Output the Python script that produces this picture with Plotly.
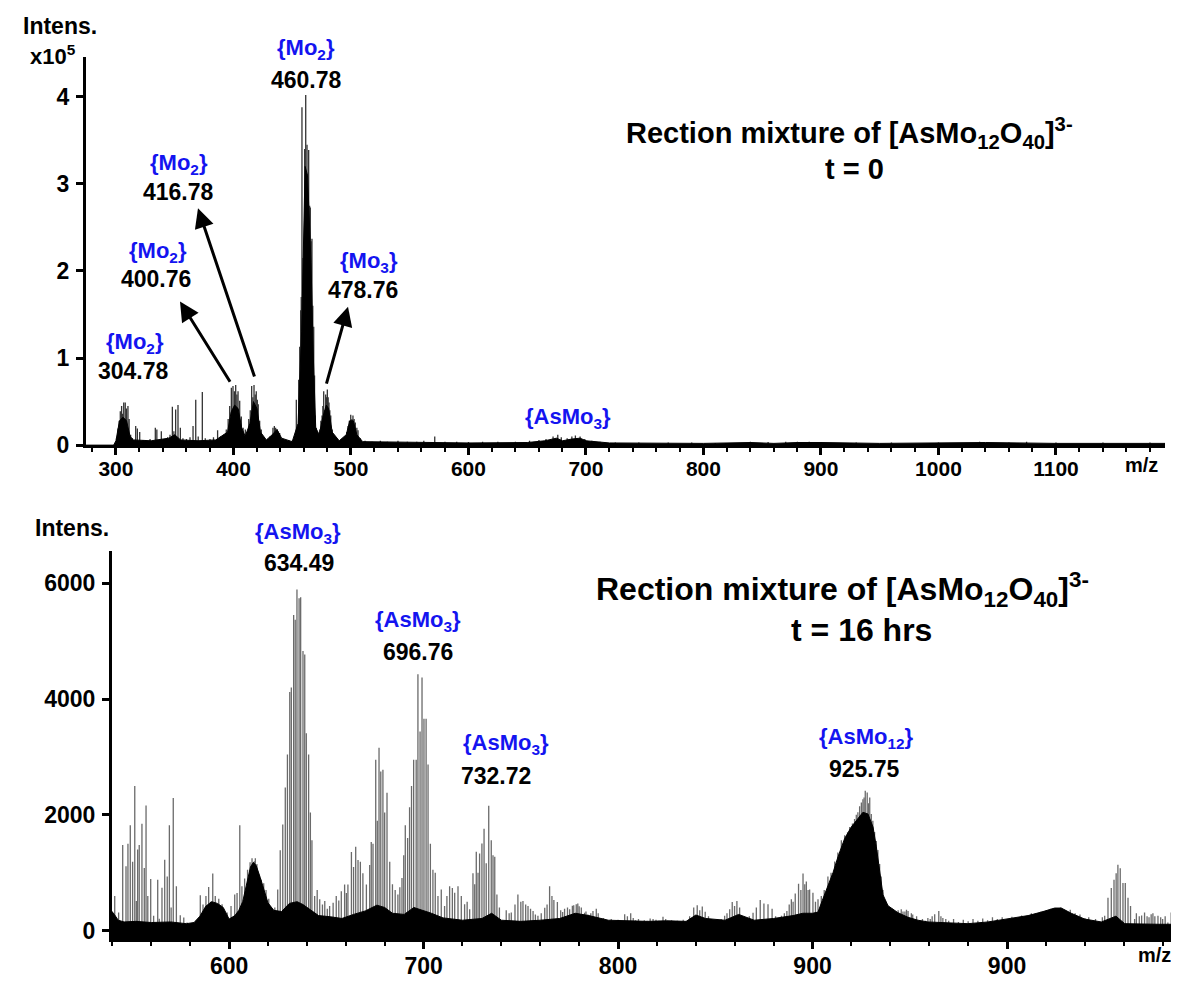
import plotly.graph_objects as go

# ---------------- data: top spectrum (t = 0), intensity in units of 1e5 ----------------
top_stick_mz = [300.5, 301.7, 302.8, 303.7, 304.8, 305.6, 306.6, 307.9, 308.9, 310.2, 311.2, 312.5, 314, 316.8,
                318.2, 320.2, 323, 326, 329, 333.5, 334.8, 338.6, 341, 344, 346, 348.0, 349.3, 350.8, 352.8, 354.8,
                357, 360, 363, 365.6, 367.9, 370, 373.5, 376, 380, 383, 386.5, 389, 392, 393.9, 395.5, 396.8,
                398.2, 399.6, 400.8, 401.9, 402.9, 403.9, 405.3, 406.7, 408.2, 410.1, 411.5, 413.0, 414.3, 415.5,
                416.5, 417.5, 418.5, 419.4, 420.3, 421.1, 422.3, 423.7, 426, 429, 431, 433.6, 434.8, 435.9, 437.2,
                437.9, 439.3, 441, 444, 447, 450, 452, 453.5, 455.5, 456.4, 457.2, 457.7, 458.3, 459.1, 460.0,
                460.6, 461.5, 462.1, 462.6, 463.3, 464.0, 464.8, 465.4, 466.2, 466.8, 467.5, 468.3, 469.0, 469.6,
                470.5, 472, 473.4, 474.4, 475.4, 476.1, 476.8, 477.6, 478.5, 479.2, 479.9, 480.6, 481.3, 482.0,
                482.8, 484.1, 486, 489, 492, 495, 496.5, 497.5, 498.6, 499.8, 500.8, 501.7, 502.7, 503.7, 505, 506,
                508, 512, 518, 525, 531, 540, 548, 556, 562, 571.3, 580, 590, 600, 612, 625, 640, 652, 660, 666,
                672, 676, 679, 684, 688, 691, 695, 699, 705, 712, 725, 745, 770, 790, 810, 840, 855, 870, 880, 890,
                900, 930, 960, 1000, 1035, 1060, 1075, 1100, 1140, 1180]
top_stick_int = [0.08, 0.19, 0.28, 0.39, 0.45, 0.36, 0.49, 0.49, 0.42, 0.45, 0.30, 0.12, 0.08, 0.22,
                 0.19, 0.15, 0.06, 0.05, 0.07, 0.20, 0.18, 0.16, 0.07, 0.09, 0.12, 0.44, 0.16, 0.41, 0.46, 0.20,
                 0.08, 0.07, 0.09, 0.22, 0.52, 0.10, 0.61, 0.08, 0.07, 0.09, 0.17, 0.10, 0.12, 0.18, 0.30, 0.45,
                 0.66, 0.68, 0.62, 0.69, 0.58, 0.62, 0.51, 0.33, 0.20, 0.18, 0.15, 0.30, 0.40, 0.68,
                 0.55, 0.69, 0.58, 0.62, 0.52, 0.47, 0.28, 0.18, 0.08, 0.07, 0.10, 0.20, 0.22, 0.20, 0.18,
                 0.16, 0.14, 0.07, 0.05, 0.06, 0.05, 0.08, 0.52, 0.75, 1.13, 1.55, 1.70, 3.88, 2.15, 2.30,
                 3.40, 4.02, 3.00, 3.45, 2.95, 3.39, 2.75, 2.73, 2.34, 2.37, 1.60, 1.36, 0.80, 0.34,
                 0.20, 0.12, 0.18, 0.28, 0.34, 0.45, 0.62, 0.40, 0.58, 0.55, 0.64, 0.55, 0.49, 0.40,
                 0.34, 0.18, 0.08, 0.05, 0.06, 0.10, 0.15, 0.22, 0.28, 0.35, 0.30, 0.34, 0.30, 0.26, 0.20, 0.17,
                 0.08, 0.05, 0.04, 0.05, 0.04, 0.05, 0.04, 0.04, 0.05, 0.10, 0.04, 0.04, 0.035, 0.04, 0.04, 0.04,
                 0.05, 0.06, 0.07, 0.10, 0.12, 0.09, 0.08, 0.10, 0.11, 0.10, 0.07, 0.05, 0.04, 0.03, 0.03, 0.03,
                 0.03, 0.025, 0.04, 0.035, 0.04, 0.04, 0.04, 0.035, 0.03, 0.03, 0.03, 0.04, 0.03, 0.04, 0.03,
                 0.03, 0.03]

top_env_mz = [274.5, 298, 300, 303, 306, 309, 312, 315, 330, 345, 350, 355, 370, 385, 395, 398, 401, 404, 407,
              410, 414, 417, 420, 423, 428, 433, 437, 441, 450, 455, 458, 461, 463, 466, 468, 470, 473, 476, 479,
              481, 484, 490, 496, 499, 502, 505, 510, 550, 600, 650, 665, 675, 680, 688, 695, 700, 720, 800, 840,
              860, 880, 900, 950, 1040, 1100, 1192.8]
top_env_int = [0.0, 0.0, 0.05, 0.28, 0.32, 0.28, 0.10, 0.06, 0.05, 0.08, 0.12, 0.06, 0.05, 0.06, 0.15, 0.38,
               0.46, 0.42, 0.20, 0.10, 0.25, 0.50, 0.42, 0.15, 0.06, 0.12, 0.18, 0.08, 0.04, 0.25, 1.30, 3.20,
               3.10, 2.10, 1.00, 0.20, 0.12, 0.32, 0.46, 0.42, 0.15, 0.05, 0.12, 0.28, 0.28, 0.12, 0.04, 0.03,
               0.025, 0.03, 0.05, 0.08, 0.05, 0.07, 0.08, 0.05, 0.025, 0.02, 0.03, 0.02, 0.03, 0.03, 0.02, 0.03,
               0.02, 0.02]

top_ticks = [300, 400, 500, 600, 700, 800, 900, 1000, 1100]
top_yticks = [0, 1, 2, 3, 4]

# ---------------- data: bottom spectrum (t = 16 hrs) ----------------
bot_stick_mz = [541.2, 543.2, 545.3, 547.0, 548.0, 549.2, 550.4, 551.5, 552.3, 553.0, 553.8, 555.2, 556.4, 557.3,
                558.2, 559.7, 561.2, 563.3, 564.1, 565.5, 566.9, 568.2, 569.3, 570.2, 571.3, 572.9, 574.9, 576.7,
                578.4, 581, 583.1, 585.2, 586.6, 588.1, 589.5, 590.5, 591.6, 592.9, 594.7, 596.4, 599.0, 601.0,
                602.9, 604.1, 605.5, 606.6, 608.0, 609.5, 610.8, 611.8, 613.0, 613.5, 614.3, 615.2, 616.5, 617.8,
                619.0, 620.4, 622.1, 623.5, 625.0, 626.3, 627.6, 628.9, 630.0, 631.2, 632.0, 633.2, 634.0, 634.9,
                636.0, 636.8, 638.0, 638.9, 639.7, 640.9, 641.8, 642.6, 644.0, 645.3, 646.6, 648, 649.2, 650.5,
                651.7, 653.5, 655.1, 656.4, 657.7, 659.4, 660.3, 661.1, 662.9, 664.0, 665.1, 666.3, 667.5, 668.8,
                670.6, 672.3, 673.1, 674.0, 675.4, 676.2, 677.1, 678.0, 679.1, 680.0, 681.2, 682.6, 684.0, 685.4,
                686.8, 687.8, 688.9, 689.8, 690.6, 691.8, 692.8, 693.8, 694.9, 696.2, 697.1, 698.2, 699.2, 700.2,
                701.3, 702.3, 703.5, 704.8, 706.0, 707.4, 709.1, 710.8, 712.0, 713.4, 714.8, 716.0, 717.7, 719.4,
                721.1, 722.4, 723.7, 725.4, 726.3, 727.1, 728.0, 728.8, 730.0, 731.1, 732.2, 733.5, 734.8, 735.7,
                736.6, 737.7, 739.0, 740.3, 742.5, 745.1, 747.0, 748.5, 750.0, 751.1, 752.5, 753.7, 755.0, 756.3,
                758.8, 760.5, 762.3, 764.8, 767.0, 768.8, 770.5, 772.5, 774.0, 775.1, 776.5, 778.5, 780.0, 781.1,
                782.8, 784.5, 786.0, 787.1, 788.8, 791, 794.8, 798, 801, 803.4, 806.5, 809, 812, 815, 818, 821,
                823.1, 826, 829, 832, 835, 838.9, 840.7, 842.0, 843.3, 844.8, 846.5, 848, 851, 853, 854.8, 856,
                857.4, 858.7, 859.9, 861.1, 862.5, 864, 866, 867.5, 869.4, 871.1, 873.1, 875.0, 877.1, 879.2, 881,
                882.5, 884.0, 885.5, 886.8, 888, 889.1, 890, 891.1, 892.8, 894, 895.1, 896.0, 896.8, 897.7, 898.5,
                900.2, 901.5, 902.8, 904.5, 906, 907.9, 909.5, 911.4, 913, 914.8, 916.5, 918, 919.1, 920.5, 921.6,
                922.5, 923.3, 924.2, 925.1, 925.9, 926.5, 927.1, 928.1, 928.8, 929.4, 930.2, 931.0, 931.9, 932.8,
                933.6, 934.5, 935.3, 936.2, 937.1, 938.5, 939.6, 941, 942.2, 944, 945.6, 947.5, 949.1, 950.8,
                952.5, 955, 958, 960.5, 962.8, 964.9, 967, 970, 975, 980, 985, 990, 995, 1000.5, 1005, 1010, 1015,
                1020, 1025, 1030, 1035, 1040, 1044, 1047, 1050.2, 1051.9, 1053.6, 1055.0, 1056.1, 1057.0, 1058.2,
                1059.6, 1060.8, 1062.2, 1063.5, 1065.6, 1068, 1070.7, 1072, 1074.1, 1076, 1077.6, 1080, 1082.7,
                1084.4, 1087.0, 1088.7, 1090.4, 1091.2]
bot_stick_int = [600, 312, 1480, 1110, 1500, 1820, 1190, 2500, 510, 1400, 1480, 1845, 1080, 2160,
                 600, 890, 255, 880, 205, 740, 1225, 935, 1820, 400, 2290, 765, 265, 225,
                 140, 120, 170, 610, 450, 600, 755, 500, 985, 600, 550, 455, 312, 425,
                 625, 650, 1820, 765, 900, 1050, 1180, 1250, 1200, 1250, 1150, 935, 880, 820,
                 700, 550, 300, 400, 710, 1390, 1835, 2470, 3040, 4120, 4200, 5450, 5370, 5890,
                 5740, 5760, 4830, 4770, 3410, 3040, 2040, 1560, 600, 700, 540, 450, 510, 380,
                 425, 480, 596, 520, 681, 795, 650, 795, 1360, 1100, 1450, 1220, 1190, 990,
                 795, 1135, 1530, 1500, 2950, 1900, 3160, 2750, 2780, 2040, 2380, 1190, 800, 700,
                 625, 750, 910, 1300, 1820, 1600, 2130, 2500, 2950, 2950, 4430, 3440, 4370, 3660,
                 3660, 2870, 1500, 1050, 1000, 600, 710, 426, 600, 767, 738, 653, 767, 596,
                 454, 500, 369, 993, 800, 1363, 1000, 1334, 1504, 1760, 1164, 2158, 1562, 1300,
                 1278, 625, 400, 142, 350, 312, 450, 625, 500, 511, 450, 426, 380, 341,
                 255, 300, 397, 767, 528, 495, 350, 380, 400, 370, 430, 455, 420, 400,
                 310, 280, 300, 340, 380, 200, 170, 150, 160, 285, 300, 180, 150, 170, 200, 170,
                 240, 150, 140, 130, 150, 400, 440, 350, 415, 325, 250, 180, 150, 200, 255, 300,
                 370, 495, 425, 510, 400, 250, 200, 250, 310, 400, 528, 470, 455, 380, 250,
                 200, 255, 300, 340, 450, 540, 500, 640, 810, 700, 985, 800, 850, 700, 710,
                 653, 500, 540, 600, 700, 937, 1000, 1193, 1350, 1562, 1647, 1700, 1789, 1850, 1930,
                 2000, 2044, 2150, 2215, 2271, 2300, 2414, 2385, 2200, 2300, 2015, 1900, 1704, 1550,
                 1392, 1150, 937, 700, 482, 450, 369, 380, 341, 350, 369, 330, 341, 300,
                 199, 180, 170, 200, 284, 341, 220, 170, 150, 160, 170, 180, 200, 170, 220, 240, 280,
                 330, 380, 350, 300, 220, 170, 150, 255, 567, 738, 880, 993, 1136, 1078,
                 823, 823, 567, 426, 199, 250, 312, 250, 284, 250, 255, 200, 142,
                 312, 511, 539, 426, 500]

# additional low-level sticks in the sparse parts of the bottom spectrum
bot_stick2_mz = [744, 757.5, 763.5, 766, 771.5, 777.2, 779.3, 783.5, 789.8, 792.5, 796.5, 800, 804.8, 807.8,
                 810.5, 813.5, 816.5, 819.5, 824.5, 827.5, 830.5, 833.5, 836.8, 946.5, 948.3, 951.5, 953.5,
                 956.5, 959.3, 961.5, 966, 968.5, 972.5, 977.5, 982.5, 987.5, 992.5, 997.5, 1002.5, 1007.5,
                 1012.5, 1017.5, 1022.5, 1027.5, 1032.5, 1037.5, 1042, 1045.5, 1049, 1066.5, 1069.2, 1073,
                 1075, 1079, 1081.3, 1085.5, 1089.5]
bot_stick2_int = [300, 280, 450, 600, 320, 440, 470, 330, 300, 220, 200, 190, 250, 220,
                  200, 180, 210, 190, 200, 180, 170, 190, 250, 330, 360, 280, 250,
                  200, 220, 250, 250, 200, 200, 190, 200, 210, 230, 230, 240, 260,
                  300, 330, 380, 400, 360, 280, 230, 200, 230, 300, 260, 230,
                  300, 230, 250, 400, 480]

bot_env_mz = [539.8, 541, 543, 546, 552, 560, 570, 578, 582, 585, 588, 591, 594, 597, 600, 603, 605, 607, 609,
              611, 612.5, 614, 616, 618, 620, 623, 627, 631, 635, 638, 642, 646, 652, 658, 664, 670, 676, 680,
              684, 690, 695, 700, 704, 710, 720, 730, 735, 740, 750, 760, 770, 778, 785, 795, 805, 815, 825, 835,
              840, 845, 855, 862, 870, 880, 890, 895, 900, 902.8, 905, 907.9, 910.5, 913.1, 916.5, 919.9, 923.3,
              925.9, 928.5, 931.1, 932.8, 934.5, 936.2, 938.8, 943.9, 949.1, 954.2, 959.3, 969.6, 979.9, 990.2,
              1000.5, 1010.8, 1017.6, 1024.5, 1027.9, 1033.0, 1039.9, 1048.5, 1056, 1060.5, 1077.6, 1091.5]
bot_env_int = [330, 280, 180, 150, 160, 140, 150, 120, 140, 250, 420, 500, 470, 400, 200, 260, 350, 500, 820,
               1100, 1180, 1120, 920, 680, 480, 350, 330, 470, 500, 450, 350, 260, 240, 210, 280, 340, 440, 400,
               300, 280, 400, 350, 300, 220, 180, 210, 300, 180, 160, 180, 210, 300, 260, 180, 170, 160, 170, 160,
               270, 210, 180, 280, 180, 210, 260, 300, 300, 320, 520, 767, 1000, 1278, 1590, 1789, 1930,
               2044, 2015, 1789, 1448, 993, 620, 430, 310, 230, 180, 150, 130, 120, 150,
               200, 260, 320, 390, 390, 300, 200, 150, 250, 120, 110, 110]

bot_tickvals = [600, 700, 800, 900, 1000]
bot_ticktext = ["600", "700", "800", "900", "900"]
bot_yticks = [0, 2000, 4000, 6000]

# peak labels: (species, value, species x px, species y px, value x px, value y px)
top_labels = [("{Mo<sub>2</sub>}", "304.78", 127, 345, 125, 373),
              ("{Mo<sub>2</sub>}", "400.76", 150, 252, 148, 280),
              ("{Mo<sub>2</sub>}", "416.78", 171, 163, 170, 191),
              ("{Mo<sub>2</sub>}", "460.78", 298, 47, 298, 78),
              ("{Mo<sub>3</sub>}", "478.76", 361, 262, 355, 291),
              ("{AsMo<sub>3</sub>}", "", 560, 421, 560, 0)]
bot_labels = [("{AsMo<sub>3</sub>}", "634.49", 290, 537, 291, 567),
              ("{AsMo<sub>3</sub>}", "696.76", 410, 626, 410, 658),
              ("{AsMo<sub>3</sub>}", "732.72", 498, 751, 488, 783),
              ("{AsMo<sub>12</sub>}", "925.75", 858, 745, 856, 776)]

# arrows in top panel: (head m/z, head int, tail m/z, tail int)
arrows = [(354.5, 1.65, 397.9, 0.71),
          (369.8, 2.72, 418.3, 0.77),
          (497.5, 1.59, 478.8, 0.69)]

W, H = 1179, 981
FONT = "Liberation Sans, Arial, sans-serif"
BLUE = "#1414f0"

TOP_X = [274.5, 1192.8]
TOP_Y = [0, 4.453]
BOT_X = [539.8, 1091.5]
BOT_Y = [-153, 6562]


def sticks(mz, inten, base):
    xs, ys = [], []
    for m, h in zip(mz, inten):
        xs += [m, m, None]
        ys += [base, h, None]
    return xs, ys


def env(mz, inten, base, x0, x1):
    xs = [x0] + list(mz) + [x1]
    ys = [base] + list(inten) + [base]
    return xs, ys


fig = go.Figure()

sx, sy = sticks(top_stick_mz, top_stick_int, TOP_Y[0])
fig.add_trace(go.Scatter(x=sx, y=sy, mode="lines", line=dict(color="#333333", width=1.3),
                         xaxis="x", yaxis="y", hoverinfo="skip", showlegend=False))
ex, ey = env(top_env_mz, top_env_int, TOP_Y[0], TOP_X[0], TOP_X[1])
fig.add_trace(go.Scatter(x=ex, y=ey, mode="lines", fill="toself", fillcolor="black",
                         line=dict(color="black", width=1), xaxis="x", yaxis="y",
                         hoverinfo="skip", showlegend=False))

sx, sy = sticks(bot_stick_mz + bot_stick2_mz, bot_stick_int + bot_stick2_int, BOT_Y[0])
fig.add_trace(go.Scatter(x=sx, y=sy, mode="lines", line=dict(color="#6a6a6a", width=1.3),
                         xaxis="x2", yaxis="y2", hoverinfo="skip", showlegend=False))
ex, ey = env(bot_env_mz, bot_env_int, BOT_Y[0], BOT_X[0], BOT_X[1])
fig.add_trace(go.Scatter(x=ex, y=ey, mode="lines", fill="toself", fillcolor="black",
                         line=dict(color="black", width=1), xaxis="x2", yaxis="y2",
                         hoverinfo="skip", showlegend=False))


def axis_common(size, standoff):
    return dict(showline=True, linecolor="black", linewidth=3, ticks="outside",
                ticklen=7, tickwidth=2.5, tickcolor="black", showgrid=False,
                zeroline=False, fixedrange=True, ticklabelstandoff=standoff,
                tickfont=dict(family=FONT, size=size, color="black", weight="bold"))


minor = dict(dtick=20, ticklen=4, tickwidth=1.5, tickcolor="black", ticks="outside")

fig.update_layout(
    width=W, height=H, autosize=False,
    margin=dict(l=0, r=0, t=0, b=0),
    paper_bgcolor="white", plot_bgcolor="white",
    showlegend=False,
    xaxis=dict(domain=[78 / W, 1157 / W], range=TOP_X, anchor="y",
               tickvals=top_ticks, minor=minor, **axis_common(21, -4)),
    yaxis=dict(domain=[1 - 443 / H, 1 - 50 / H], range=TOP_Y, anchor="x",
               tickvals=top_yticks, **axis_common(23, 2)),
    xaxis2=dict(domain=[104 / W, 1177 / W], range=BOT_X, anchor="y2",
                tickvals=bot_tickvals, ticktext=bot_ticktext, minor=dict(minor, tick0=600),
                **axis_common(23, -3)),
    yaxis2=dict(domain=[1 - 944 / H, 1 - 550 / H], range=BOT_Y, anchor="x2",
                tickvals=bot_yticks, **axis_common(23, 2)),
)

ann = []


def txt(text, px, py, size, color="black"):
    ann.append(dict(text=text, x=px / W, y=1 - py / H, xref="paper", yref="paper",
                    xanchor="center", yanchor="middle", showarrow=False,
                    font=dict(family=FONT, size=size, color=color, weight="bold")))


txt("Intens.", 52, 18, 23)
txt("x10<sup>5</sup>", 45, 48, 22)
txt("Intens.", 64, 527, 23)
txt("m/z", 1133, 463, 20)
txt("m/z", 1146, 960, 20)

txt("Rection mixture of [AsMo<sub>12</sub>O<sub>40</sub>]<sup>3-</sup>", 841, 127, 29)
txt("t = 0", 846, 163, 29)
txt("Rection mixture of [AsMo<sub>12</sub>O<sub>40</sub>]<sup>3-</sup>", 834, 589, 32)
txt("t = 16 hrs", 853, 630, 32)

for sp, val, sx_, sy_, vx, vy in top_labels + bot_labels:
    txt(sp, sx_, sy_ - 5, 22, BLUE)
    if val:
        txt(val, vx, vy - 5, 23)

for hx, hy, tx, ty in arrows:
    ann.append(dict(x=hx, y=hy, ax=tx, ay=ty, xref="x", yref="y", axref="x", ayref="y",
                    text="", showarrow=True, arrowhead=2, arrowsize=1.3, arrowwidth=3,
                    arrowcolor="black", standoff=0, startstandoff=0))

fig.update_layout(annotations=ann)

fig.write_html("out.html")
